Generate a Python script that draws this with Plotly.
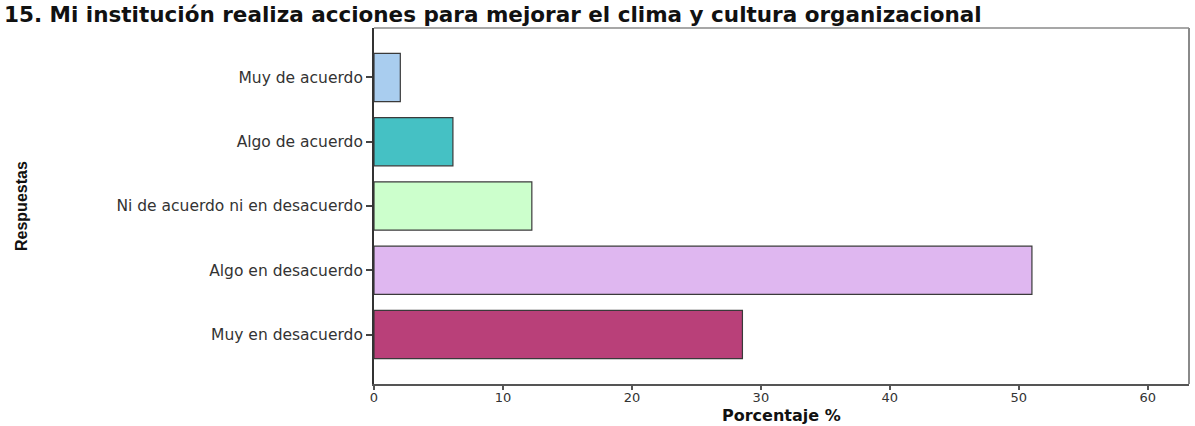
import plotly.graph_objects as go

# Survey item 15: share of responses (%) per answer
categories = [
    "Muy de acuerdo",
    "Algo de acuerdo",
    "Ni de acuerdo ni en desacuerdo",
    "Algo en desacuerdo",
    "Muy en desacuerdo",
]
percentages = [2.04, 6.12, 12.24, 51.02, 28.57]
bar_colors = ["#a9cdef", "#45c1c4", "#ccffcc", "#dfb7f0", "#b94079"]

x_ticks = [0, 10, 20, 30, 40, 50, 60]

title_text = "15. Mi institución realiza acciones para mejorar el clima y cultura organizacional"
x_title = "Porcentaje %"
y_title = "Respuestas"

fig = go.Figure(
    go.Bar(
        x=percentages,
        y=categories,
        orientation="h",
        width=0.75,
        marker=dict(color=bar_colors, line=dict(color="#3a3a3a", width=1.2)),
        hoverinfo="x+y",
    )
)

W, H = 1195, 426
ml, mr, mt, mb = 374, 6, 28, 42

fig.update_layout(
    width=W,
    height=H,
    margin=dict(l=ml, r=mr, t=mt, b=mb),
    paper_bgcolor="white",
    plot_bgcolor="white",
    showlegend=False,
    font=dict(family="DejaVu Sans, Arial, sans-serif", color="#222222"),
    title=dict(
        text=title_text,
        font=dict(family="DejaVu Sans, Arial, sans-serif", size=21.5, color="#111111", weight="bold"),
        xref="container",
        yref="container",
        x=4 / W,
        y=1 - 14 / H,
        xanchor="left",
        yanchor="middle",
    ),
    xaxis=dict(
        range=[0, 63.2],
        tickvals=x_ticks,
        ticktext=[str(v) for v in x_ticks],
        showgrid=False,
        zeroline=False,
        showline=True,
        linecolor="#555555",
        linewidth=2,
        ticks="outside",
        ticklen=4,
        tickwidth=2,
        tickcolor="#555555",
        ticklabelstandoff=-4,
        tickfont=dict(size=13, color="#333333"),
    ),
    yaxis=dict(
        categoryorder="array",
        categoryarray=categories[::-1],
        range=[-0.77, 4.77],
        showgrid=False,
        zeroline=False,
        showline=True,
        linecolor="#333333",
        linewidth=2,
        ticks="outside",
        ticklen=6,
        tickwidth=1.5,
        tickcolor="#444444",
        tickfont=dict(size=15.5, color="#333333"),
    ),
)

# Thin grey frame on the top and right sides of the plotting area
fig.add_shape(type="line", xref="paper", yref="paper", x0=0, x1=1, y0=1, y1=1,
              line=dict(color="#8a8a8a", width=1.5))
fig.add_shape(type="line", xref="paper", yref="paper", x0=1, x1=1, y0=0, y1=1,
              line=dict(color="#8a8a8a", width=2))

pw = W - ml - mr
ph = H - mt - mb

# Axis titles
fig.add_annotation(
    text=x_title,
    xref="paper", yref="paper",
    x=(781 - ml) / pw, y=-(415 - (H - mb)) / ph,
    xanchor="center", yanchor="middle",
    showarrow=False,
    font=dict(family="DejaVu Sans, Arial, sans-serif", size=16, color="#111111", weight="bold"),
)
fig.add_annotation(
    text=y_title,
    xref="paper", yref="paper",
    x=(21 - ml) / pw, y=((H - mb) - 206) / ph,
    xanchor="center", yanchor="middle",
    textangle=-90,
    showarrow=False,
    font=dict(family="Liberation Sans Narrow, Liberation Sans, Arial, sans-serif", size=16, color="#111111", weight="bold"),
)

fig.write_html("out.html")
